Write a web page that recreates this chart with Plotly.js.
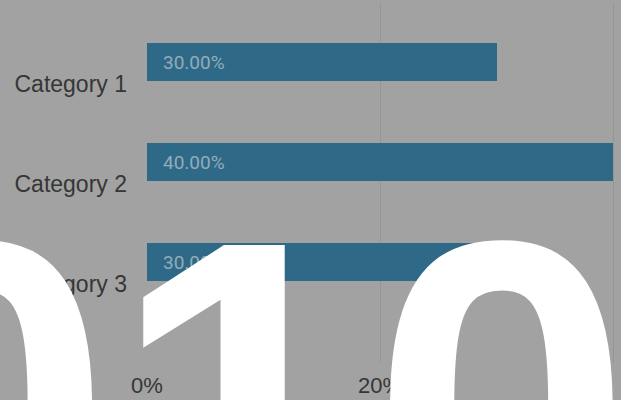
<!DOCTYPE html>
<html>
<head>
<meta charset="utf-8">
<script src="https://cdn.plot.ly/plotly-3.0.1.min.js"></script>
<style>html,body{margin:0;padding:0;background:#a2a2a2;}#chart{width:621px;height:400px;}</style>
</head>
<body>
<div id="chart"></div>
<script>
const categories = ["Category 1", "Category 2", "Category 3"];
const values = [0.30, 0.40, 0.30];
const valueLabels = ["30.00%", "40.00%", "30.00%"];
const xTickVals = [0, 0.2, 0.4];
const xTickText = ["0%", "20%", "40%"];
const overlayText = "010";

const BG = "#a2a2a2";
const BAR = "#2e6a88";

const trace = {
  type: "bar",
  orientation: "h",
  y: categories,
  x: values,
  width: 0.38,
  offset: -0.41,
  marker: {color: BAR, line: {width: 0}},
  hoverinfo: "skip",
  showlegend: false
};

const annotations = categories.map((c, i) => ({
  xref: "x", yref: "y",
  x: 0, y: i - 0.22,
  xanchor: "left", yanchor: "middle",
  xshift: 14,
  text: valueLabels[i],
  showarrow: false,
  font: {family: "Roboto, sans-serif", size: 19, color: "#95abb8"}
}));

annotations.push({
  xref: "paper", yref: "paper",
  x: (241 - 147) / 474, y: 1 - (140.5 - 3) / 360,
  xanchor: "center", yanchor: "top",
  text: overlayText,
  showarrow: false,
  font: {family: "Liberation Sans, Arial, sans-serif", size: 468, color: "#ffffff", weight: 700}
});

const layout = {
  width: 621, height: 400,
  paper_bgcolor: BG, plot_bgcolor: BG,
  margin: {l: 147, r: 0, t: 3, b: 37, pad: 0},
  bargap: 0,
  xaxis: {
    range: [0, 474 / 1165],
    tickvals: xTickVals, ticktext: xTickText,
    showgrid: true, gridcolor: "#959595", gridwidth: 1,
    zeroline: false, showline: false,
    ticks: "", ticklabelstandoff: 7,
    tickfont: {family: "Liberation Sans, Arial, sans-serif", size: 22, color: "#363636"},
    fixedrange: true
  },
  yaxis: {
    type: "category",
    range: [2.79, -0.81],
    showgrid: false, zeroline: false, showline: false,
    ticks: "", ticklabelstandoff: 19,
    tickfont: {family: "Liberation Sans, Arial, sans-serif", size: 23, color: "#363636"},
    fixedrange: true
  },
  annotations: annotations
};

Plotly.newPlot("chart", [trace], layout, {displayModeBar: false, staticPlot: true});
</script>
</body>
</html>
